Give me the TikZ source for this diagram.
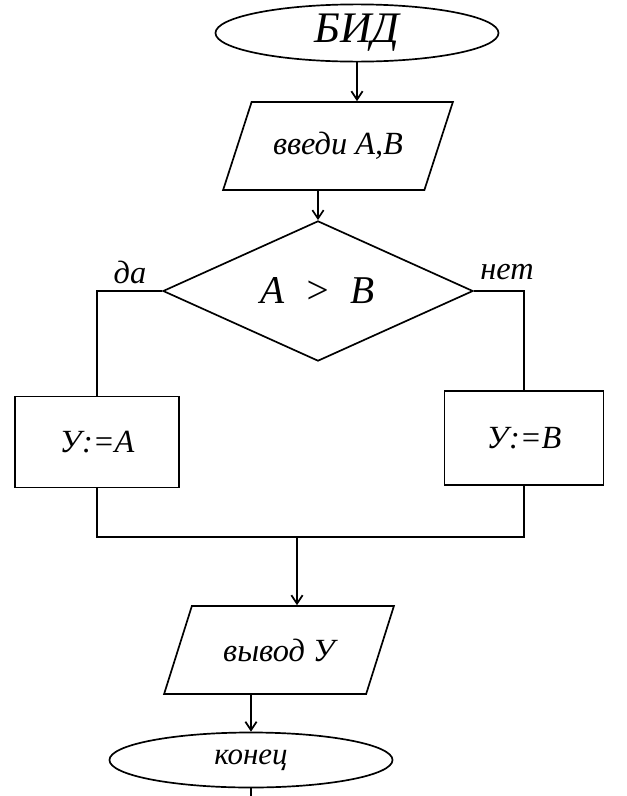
\documentclass[tikz,border=0pt]{standalone}
\usepackage{fontspec}
\setmainfont{Liberation Serif}
\usetikzlibrary{shapes.geometric,arrows.meta}

\begin{document}
\begin{tikzpicture}[
    x=0.025cm, y=-0.025cm,
    line width=1.2pt,
    every node/.style={font=\fontsize{23}{27}\selectfont\itshape, inner sep=0pt},
    terminal/.style={ellipse, draw, minimum width=7.075cm, minimum height=1.43cm},
    io/.style={trapezium, trapezium left angle=52, trapezium right angle=128, trapezium stretches=true, draw, minimum width=5.75cm, minimum height=2.2cm},
    decision/.style={diamond, draw, minimum width=7.75cm, minimum height=3.45cm},
    process/.style={rectangle, draw},
    arrow/.style={-{Straight Barb[length=6pt,width=8pt]}}
]
\useasboundingbox (0,0) rectangle (626,796);

\node[terminal, font=\fontsize{31}{35}\selectfont\itshape] (start) at (357,33) {БИД};
\node[io] (in) at (338,146) {введи А,В};
\node[decision, font=\fontsize{28}{32}\selectfont\itshape] (dec) at (318,291) {А\ \ >\ \ В};
\node (yes) at (130,272) {да};
\node (no) at (507,272) {нет};
\node[process, minimum width=4.1cm, minimum height=2.275cm] (ya) at (97,442) {У:=А};
\node[process, minimum width=3.975cm, minimum height=2.35cm] (yb) at (524,438) {У:=В};
\coordinate (join) at (297,537);
\node[io] (out) at (279,650) {вывод У};
\node[terminal, minimum height=1.375cm, font=\fontsize{22}{26}\selectfont\itshape] (stop) at (251,760) {конец};
\coordinate (tail) at (251,796);

\draw[arrow] (start.south) -- (start.south |- in.north);
\draw[arrow] (dec.north |- in.south) -- (dec.north);
\draw (dec.west) -| (ya.north);
\draw (dec.east) -| (yb.north);
\draw (ya.south) -- (ya.south |- join) -- (yb.south |- join) -- (yb.south);
\draw[arrow] (join) -- (join |- out.north);
\draw[arrow] (stop.north |- out.south) -- (stop.north);
\draw (stop.south) -- (tail);
\end{tikzpicture}
\end{document}
